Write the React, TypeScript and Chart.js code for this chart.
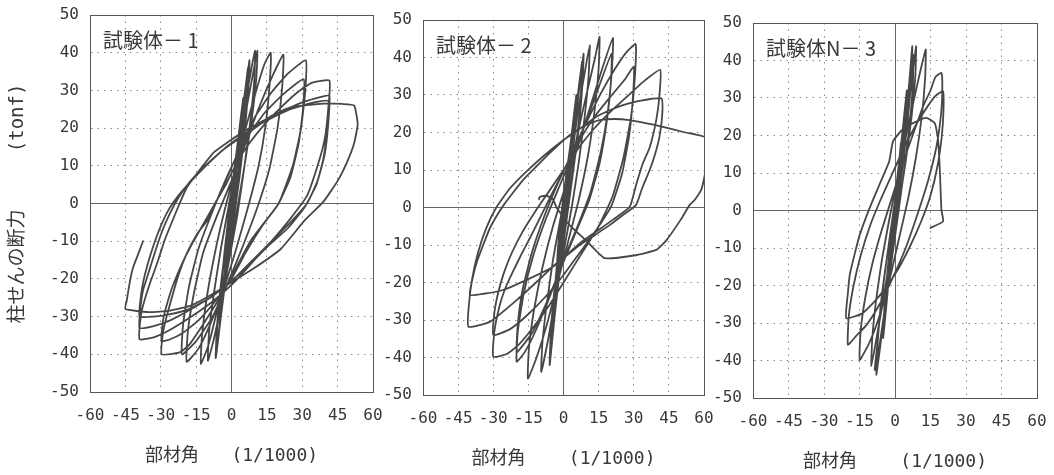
import React, { useEffect, useRef } from "react";
import { Chart, registerables } from "chart.js";

Chart.register(...registerables);

// ---------- axis ticks ----------
const xTickValues = [-60, -45, -30, -15, 0, 15, 30, 45, 60];
const yTickValues = [-50, -40, -30, -20, -10, 0, 10, 20, 30, 40, 50];

// ---------- labels ----------
const panelLabels = ["試験体－ 1", "試験体－ 2", "試験体N－ 3"];
const yTitle = "柱せんの断力     (tonf)";
const xTitles = ["部材角   (1/1000)", "部材角    (1/1000)", "部材角    (1/1000)"];

// ---------- 試験体-1 : [部材角 (1/1000), せん断力 (tonf)] ----------
const sp1C1 = [[0, 0], [1.2, 7], [2.5, 15], [2, 9], [0.5, 0], [-1, -7], [-2.5, -16]];
const sp1C2 = [[-2, -9], [-0.5, 0], [1, 8], [3, 18], [5, 28], [4.5, 20], [3, 10], [1, 0], [-1.5, -10], [-3.5, -22], [-5, -32]];
const sp1C3 = [[-4.5, -24], [-3, -13], [-1, -2], [1.5, 10], [4, 22], [6, 31], [7, 36], [6.5, 28], [5, 18], [3, 8], [0.5, -4], [-2, -16], [-4.5, -30], [-6.7, -41]];
const sp1C3b = [[-6.2, -33], [-4.6, -22], [-2.3, -10], [0.2, 2], [2.8, 14], [5.2, 26], [6.8, 34], [7.6, 38], [7.1, 30], [5.6, 19], [3.4, 7], [0.8, -5], [-1.8, -17], [-4.3, -29], [-6.4, -39]];
const sp1C4 = [[-6, -33], [-4.5, -22], [-2, -10], [0.5, 3], [3, 15], [6, 27], [8.5, 36], [10, 40.5], [9.7, 33], [8, 22], [5.5, 10], [2.5, -3], [-1, -15], [-4.5, -27], [-7.5, -36], [-10, -41.7]];
const sp1C5 = [[-9.5, -34], [-7.5, -24], [-4.5, -12], [-1, 0], [2.5, 12], [6, 24], [9, 34], [11, 40.5], [10.5, 33], [8.5, 22], [5.5, 10], [2, -3], [-2, -16], [-6, -28], [-10, -38], [-13, -42.5]];
const sp1C6 = [[-12.5, -35], [-10.5, -25], [-7, -13], [-3, -2], [1.5, 9], [6, 20], [10.5, 30], [14, 37], [16.6, 40], [16.2, 32], [14.5, 21], [11.5, 10], [7, -1], [2, -12], [-3.5, -23], [-9, -32], [-14, -38.5], [-19, -42]];
const sp1C7 = [[-18.5, -34], [-16, -24], [-12, -13], [-6, -3], [0, 6], [6, 16], [12, 26], [17.5, 34], [22, 39.5], [21.5, 31], [19.5, 20], [16, 9], [11, -1], [5, -11], [-1.5, -21], [-8, -30], [-15, -36.5], [-21, -40]];
const sp1C8 = [[-20.5, -32], [-18, -22], [-14, -12], [-8, -2], [-2, 7], [4, 15], [10, 23], [17, 29.5], [24, 34.5], [31.5, 38], [31.3, 30], [29.5, 20], [26, 10], [20, 0], [14, -5], [8, -10], [2, -17], [-5, -25], [-12, -32], [-18, -37.5], [-22, -39.5], [-29.6, -40]];
const sp1C9 = [[-29, -34], [-27.5, -30], [-26, -26.5], [-22.5, -19], [-19, -13.3], [-14.5, -8], [-10.3, -4.5], [-6, 1], [-2.5, 6], [1, 11], [6, 17], [14, 24], [22, 29], [30.6, 33], [30.3, 25], [28.5, 16], [25, 7], [20, 0], [13, -6], [6, -13], [0, -20], [-7, -26], [-14, -31], [-21, -34.5], [-26, -36], [-29.6, -36.5]];
const sp1C10 = [[-29, -31], [-27.5, -27], [-25, -22], [-21, -16], [-17, -11], [-12, -5.5], [-7, 0], [-2, 5.5], [2, 10.5], [7, 15.5], [14, 21], [21, 25.5], [28, 29.5], [34, 32], [41.5, 32.6], [41, 25], [39.5, 17], [36.5, 10], [32, 2], [25, -4], [17, -10], [9, -15.5], [1, -21], [-8, -26], [-17, -30], [-26, -33.5], [-33, -35.5], [-39, -36]];
const sp1C11 = [[-38.5, -30], [-37.3, -26.6], [-34.5, -21], [-31.6, -16], [-28.5, -10], [-25, -4.5], [-22, 0], [-18.9, 4.3], [-14.6, 8], [-7.6, 13.5], [-1, 16.5], [5, 19], [12, 21.5], [20, 24], [30, 26.8], [38, 28.3], [41.5, 28.6], [41, 21], [39.5, 13], [36.5, 6], [32, 0], [25, -5], [17, -10], [9, -15], [1, -20], [-8, -24.5], [-17, -28], [-26, -31], [-33, -32.5], [-39, -33]];
const sp1C12 = [[-38.5, -27], [-37.5, -23], [-35, -18], [-32.5, -13], [-29.5, -7.5], [-26, -2.5], [-22.5, 1.5], [-18, 5.5], [-12, 9.5], [-5, 13.5], [1, 16.5], [8, 19.5], [15, 22], [25, 25], [35, 26.8], [41, 27.2], [40.5, 20], [39, 12], [36, 5], [31, -1], [24, -6.5], [16, -11], [8, -16], [0, -20.5], [-9, -25], [-18, -28], [-27, -29.5], [-33, -30], [-39, -30]];
const sp1C13 = [[-38.5, -25], [-37.5, -21], [-35.5, -16], [-33, -11], [-30, -6], [-26.5, -1.5], [-22, 2.5], [-17, 6], [-10, 10.5], [-3, 14.5], [4, 17.5], [11, 20.5], [17, 23.3], [25, 25.5], [39, 26.5], [47, 26.4], [52, 26], [53.5, 21], [52, 16], [49, 11], [45, 6], [39, 0.5], [31, -4.5], [21, -12], [10, -17], [1, -20.5], [-8, -24], [-17, -27], [-26, -28.4], [-35, -28.8], [-45, -28]];
const sp1End = [[-44.4, -25.7], [-43, -20.4], [-41.7, -16.9], [-39.5, -13.3], [-37.4, -9.8]];

// ---------- 試験体-2 ----------
const sp2C1 = [[0, 0], [1.5, 8], [3, 17], [2.5, 10], [0.8, 0], [-1, -8], [-3, -20]];
const sp2C2 = [[-2.5, -12], [-1, -2], [0.8, 7], [3, 17], [5.5, 30], [5, 22], [3.5, 12], [1.5, 2], [-0.8, -9], [-2.8, -21], [-4.5, -32]];
const sp2C3 = [[-4, -24], [-2.5, -13], [-0.5, -2], [2, 10], [4.5, 22], [6.5, 32], [8, 39], [7.5, 31], [6, 20], [3.5, 8], [1, -4], [-1.5, -16], [-3.8, -29], [-5.9, -42]];
const sp2C3b = [[-5.4, -33], [-3.9, -22], [-1.6, -10], [0.8, 2], [3.2, 14], [5.6, 26], [7.6, 36], [8.6, 41], [8.1, 33], [6.5, 21], [4, 9], [1.4, -3], [-1.2, -15], [-3.6, -28], [-5.6, -40]];
const sp2C4 = [[-5.3, -34], [-3.8, -23], [-1.5, -11], [1, 1], [3.5, 13], [6, 25], [8.8, 35], [11.2, 43.3], [10.7, 35], [9, 24], [6.5, 12], [3.5, 0], [0, -12], [-3.5, -24], [-6.5, -35], [-9.5, -43.8]];
const sp2C5 = [[-9, -36], [-7.2, -26], [-4.5, -14], [-1, -2], [2.5, 9], [6.5, 21], [10.5, 32], [13.5, 40], [15.4, 45.5], [15, 37], [13.3, 26], [10.5, 14], [6.5, 2], [2, -9], [-2.5, -20], [-7, -31], [-11.5, -40], [-15.2, -45.6]];
const sp2C6 = [[-14.7, -37], [-12.5, -27], [-9, -16], [-4.5, -5], [0.5, 5], [5.5, 15], [11, 26], [16, 36], [21.1, 45.2], [20.7, 37], [19, 26], [16, 15], [11.5, 4], [6, -5], [0, -14], [-6, -24], [-12, -33], [-16.5, -38.5], [-20, -41.1]];
const sp2C7 = [[-19.5, -33], [-17, -23], [-13, -13], [-7.5, -3], [-1.5, 6], [4.5, 15], [10, 23.5], [15, 32], [20.5, 41], [20.2, 33], [18.5, 23], [15.5, 12], [11, 2], [5, -7], [-1, -16], [-7, -25], [-13, -33], [-17, -36.5], [-20, -38.6]];
const sp2C8 = [[-19.5, -31], [-17.5, -22], [-13.5, -12], [-8, -2], [-2, 7], [4, 15], [10, 23], [16, 30.5], [22, 37], [27, 41.5], [30.8, 43.6], [30.5, 35], [28.8, 24], [25.5, 13], [21, 3], [15, -5], [8, -12], [1, -19], [-6, -26], [-13, -32], [-19, -36.5], [-24, -39], [-30, -39.8]];
const sp2C9 = [[-29.5, -33], [-27.2, -26], [-24.5, -21], [-21.6, -17.1], [-18, -12.5], [-14.4, -8.2], [-11, -4], [-7.3, 0.7], [-3, 6], [1, 11], [6, 17], [13, 24], [20, 29.5], [26, 34], [30, 37.5], [29.6, 29], [28, 19], [25, 9], [20.5, 0.5], [14, -6], [7, -12], [0, -18], [-8, -24], [-16, -29], [-23, -32.5], [-30, -34]];
const sp2C10 = [[-29.5, -28], [-28, -23], [-25.5, -17.5], [-22, -12], [-17.5, -6.5], [-12, -1], [-6, 4.5], [0, 10], [6, 15.5], [13, 21], [20, 25.5], [27, 29.5], [34, 33.5], [41.3, 36.7], [41, 30], [39.6, 23.3], [36.8, 16], [33.9, 11.8], [31, 6], [28.3, 0.2], [21, -3.3], [14, -6.4], [7, -9.5], [1.2, -12.7], [-5, -16], [-10, -19], [-20, -24.7], [-31.5, -30.5], [-40.6, -31.8]];
const sp2C11 = [[-40.4, -26], [-39, -19], [-36.5, -12], [-33, -5.5], [-28.7, 0], [-23, 5], [-16, 9.5], [-8, 14], [0, 18], [7, 21], [14, 24.2], [20, 26], [25.4, 27.3], [33, 28.5], [41.8, 29.1], [42.2, 25], [41, 18.9], [39, 14], [36.8, 10], [33.5, 5], [31, 0.7], [25, -2.2], [19.7, -4.7], [13, -7.5], [6.9, -10], [0, -13.5], [-4.5, -15.8], [-13, -18.5], [-25.8, -22], [-34, -23], [-40, -23.3]];
const sp2C12 = [[-38.5, -18], [-37, -14.5], [-34, -9.5], [-31.5, -5.6], [-28.5, -2.2], [-25.5, 0.7], [-21.5, 4], [-17.3, 7.3], [-11.5, 11], [-5.9, 14.5], [2.6, 19.3], [9, 21.8], [15.4, 23.3], [22, 23.6], [28.2, 23.3], [35, 22.5], [42.5, 21.5], [52, 20], [61.5, 18.5]];
const sp2End = [[61.3, 12], [59, 5], [56, 2], [53.9, 0.7], [50, -3.3], [44, -8.7], [39.6, -11.3], [30, -12.8], [17.6, -13.5], [10, -9], [2.6, -4.7], [-3, 0], [-4.5, 2.2], [-7.5, 3.2], [-10.2, 2.8], [-10.5, 2]];

// ---------- 試験体N-3 ----------
const sp3C1 = [[0, 0], [1.2, 9], [2.5, 18], [2, 11], [0.6, 2], [-1, -8], [-2.5, -18]];
const sp3C2 = [[-2, -10], [-0.6, -1], [1, 9], [3, 20], [5, 32], [4.5, 24], [3, 14], [1, 3], [-1, -8], [-3, -21], [-5, -34]];
const sp3C3 = [[-4.5, -26], [-3, -15], [-1, -4], [1.5, 9], [4, 22], [6, 34], [7.3, 43.8], [7, 36], [5.5, 25], [3.5, 13], [1, 1], [-1.5, -12], [-4, -25], [-6.2, -36], [-7.9, -43.8]];
const sp3C3b = [[-7.3, -35], [-5.7, -24], [-3.3, -12], [-0.6, 0], [2.1, 12], [4.6, 24], [6.5, 34], [7.8, 41.5], [7.5, 33], [6, 22], [3.7, 10], [1.1, -2], [-1.8, -15], [-4.5, -27], [-6.8, -37], [-8.6, -42.5]];
const sp3C4 = [[-7.5, -36], [-6, -25], [-3.5, -13], [-0.5, -1], [2.5, 12], [5, 24], [7.2, 35], [8.9, 43.8], [8.6, 36], [7, 25], [4.5, 13], [1.5, 1], [-2, -12], [-5, -24], [-7.8, -34], [-10, -41.5]];
const sp3C5 = [[-9.6, -34], [-8, -24], [-5.5, -13], [-2, -1], [1.5, 10], [5, 21], [8.5, 31], [11, 38], [13, 42.9], [12.7, 35], [11.3, 25], [8.8, 14], [5.5, 3], [1.5, -8], [-2.5, -19], [-7, -29], [-11, -35.5], [-14.9, -39.8]];
const sp3C6 = [[-14.5, -32], [-12.5, -23], [-9.5, -14], [-5.5, -5], [-1, 4], [3.5, 13], [8, 21], [12, 28], [15, 32], [17, 35.5], [19.6, 36.7], [20, 33], [19.5, 26], [17.5, 17], [14, 8], [9.5, -1], [4.5, -10], [-1, -18], [-6.5, -25], [-12, -30.5], [-16.5, -33.5], [-19.9, -35.8]];
const sp3C7 = [[-19.5, -28], [-17.5, -20], [-14.5, -12], [-10.5, -4], [-6, 3], [-1, 10], [4, 17], [9, 23], [13.5, 27.5], [17, 30.5], [20.3, 31.8], [20.5, 27], [19.8, 20], [18, 12], [15, 4], [11, -3], [6, -10], [0.5, -16.5], [-5, -21.5], [-9.3, -24.7], [-14, -27.5], [-20.6, -28.7]];
const sp3End = [[-19.9, -22], [-19.1, -17.1], [-17, -11.5], [-14.9, -6.5], [-10.7, 0.7], [-6.5, 7], [-2.5, 13], [-0.8, 18.5], [3, 21.5], [7.6, 23.3], [13.2, 24.7], [16.8, 23.3], [18.2, 18.9], [19, 10], [19.6, 0.2], [20.3, -2.9], [14.7, -4.7]];

const specimen1 = [sp1C1, sp1C2, sp1C3, sp1C3b, sp1C4, sp1C5, sp1C6, sp1C7, sp1C8, sp1C9, sp1C10, sp1C11, sp1C12, sp1C13, sp1End];
const specimen2 = [sp2C1, sp2C2, sp2C3, sp2C3b, sp2C4, sp2C5, sp2C6, sp2C7, sp2C8, sp2C9, sp2C10, sp2C11, sp2C12, sp2End];
const specimen3 = [sp3C1, sp3C2, sp3C3, sp3C3b, sp3C4, sp3C5, sp3C6, sp3C7, sp3End];

const TEXT = "#383838";
const MONO = '"DejaVu Sans Mono", "Noto Sans CJK JP", monospace';

type PanelSpec = {
  cycles: number[][][];
  label: string;
  xTitle: string;
  showYTitle: boolean;
  left: number;
  width: number;
  yWidth: number;
  padRight: number;
  padTop: number;
  xHeight: number;
  xTitlePad: number;
};

const panels: PanelSpec[] = [
  { cycles: specimen1, label: panelLabels[0], xTitle: xTitles[0], showYTitle: true, left: 0, width: 384, yWidth: 90, padRight: 11, padTop: 15, xHeight: 83, xTitlePad: 8 },
  { cycles: specimen2, label: panelLabels[1], xTitle: xTitles[1], showYTitle: false, left: 384, width: 330, yWidth: 39, padRight: 10, padTop: 20, xHeight: 80, xTitlePad: 5 },
  { cycles: specimen3, label: panelLabels[2], xTitle: xTitles[2], showYTitle: false, left: 714, width: 340, yWidth: 39, padRight: 17, padTop: 23, xHeight: 77, xTitlePad: 2 },
];

function isFrameOrZero(ctx: any, edges: number[]) {
  const t = ctx && ctx.tick;
  if (!t) return true;
  return t.value === 0 || edges.includes(t.value);
}

function Panel({ spec }: { spec: PanelSpec }) {
  const ref = useRef<HTMLCanvasElement | null>(null);
  useEffect(() => {
    if (!ref.current) return;
    const points = spec.cycles.flat().map(([x, y]) => ({ x, y }));
    const labelPlugin = {
      id: "panelLabel",
      afterDatasetsDraw(chart: any) {
        const { ctx, chartArea } = chart;
        ctx.save();
        ctx.font = '20px "Noto Sans CJK JP", sans-serif';
        ctx.fillStyle = TEXT;
        ctx.textAlign = "left";
        ctx.textBaseline = "middle";
        ctx.fillText(spec.label, chartArea.left + 13, chartArea.top + 25);
        ctx.restore();
      },
    };
    const gridColor = (edges: number[]) => (ctx: any) => {
      const t = ctx.tick;
      if (!t) return "#666";
      if (edges.includes(t.value)) return "#555";
      if (t.value === 0) return "#666";
      return "#8a8a8a";
    };
    const dash = (edges: number[]) => (ctx: any) => (isFrameOrZero(ctx, edges) ? [] : [1.5, 5]);
    const chart = new Chart(ref.current, {
      type: "scatter",
      data: {
        datasets: [
          {
            data: points,
            showLine: true,
            borderColor: "#474747",
            borderWidth: 1.8,
            pointRadius: 0,
            tension: 0.15,
            fill: false,
          } as any,
        ],
      },
      options: {
        animation: false,
        responsive: false,
        maintainAspectRatio: false,
        events: [],
        layout: { padding: { left: 0, right: spec.padRight, top: spec.padTop, bottom: 0 } },
        plugins: { legend: { display: false }, tooltip: { enabled: false } },
        scales: {
          x: {
            type: "linear",
            min: xTickValues[0],
            max: xTickValues[xTickValues.length - 1],
            afterBuildTicks: (scale: any) => {
              scale.ticks = xTickValues.map((v) => ({ value: v }));
            },
            afterFit: (scale: any) => {
              scale.height = spec.xHeight;
              scale.paddingLeft = 0;
              scale.paddingRight = 0;
            },
            ticks: {
              autoSkip: false,
              maxRotation: 0,
              padding: 14,
              color: TEXT,
              font: { family: MONO, size: 16 },
              callback: (v: any) => String(v),
            },
            grid: { color: gridColor([-60, 60]), lineWidth: 1, drawTicks: false },
            border: { display: true, color: "#555", width: 1, dash: dash([-60, 60]) } as any,
            title: {
              display: true,
              text: spec.xTitle,
              color: TEXT,
              font: { family: MONO, size: 18 },
              padding: { top: 0, bottom: spec.xTitlePad },
            },
          },
          y: {
            type: "linear",
            min: yTickValues[0],
            max: yTickValues[yTickValues.length - 1],
            afterBuildTicks: (scale: any) => {
              scale.ticks = yTickValues.map((v) => ({ value: v }));
            },
            afterFit: (scale: any) => {
              scale.width = spec.yWidth;
              scale.paddingTop = 0;
              scale.paddingBottom = 0;
            },
            ticks: {
              autoSkip: false,
              padding: 11,
              color: TEXT,
              font: { family: MONO, size: 16 },
              callback: (v: any) => String(v),
            },
            grid: { color: gridColor([-50, 50]), lineWidth: 1, drawTicks: false },
            border: { display: true, color: "#555", width: 1, dash: dash([-50, 50]) } as any,
            title: {
              display: spec.showYTitle,
              text: yTitle,
              color: TEXT,
              font: { family: MONO, size: 19 },
              padding: { top: 7, bottom: 0 },
            },
          },
        },
      } as any,
      plugins: [labelPlugin],
    });
    return () => chart.destroy();
  }, [spec]);
  return (
    <canvas
      ref={ref}
      width={spec.width}
      height={475}
      style={{ position: "absolute", left: spec.left, top: 0, width: spec.width, height: 475, display: "block" }}
    />
  );
}

export default function App() {
  return (
    <div style={{ position: "absolute", left: 0, top: 0, width: 1054, height: 475, background: "#ffffff", overflow: "hidden" }}>
      {panels.map((p, i) => (
        <Panel key={i} spec={p} />
      ))}
    </div>
  );
}
